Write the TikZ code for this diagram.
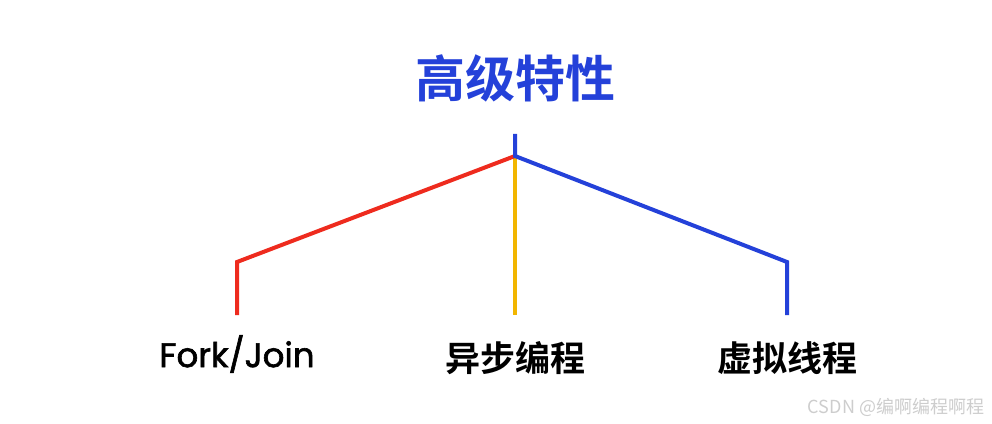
\documentclass[tikz,border=0pt]{standalone}
\usepackage{fontspec}
\setmainfont{Poppins}
\newfontfamily\cjk{Noto Sans CJK SC}[BoldFont={Noto Sans CJK SC Bold}]
\newfontfamily\leaflatin{Poppins}[FakeBold=1.8]

\definecolor{titleblue}{HTML}{2441D9}
\definecolor{branchred}{HTML}{EE2B1E}
\definecolor{branchyellow}{HTML}{F2B600}
\definecolor{markgray}{HTML}{CDCDCD}

\tikzset{
  branch/.style = {line width=4pt},
  leaf/.style   = {inner sep=0pt, text=black},
}

\begin{document}
\begin{tikzpicture}[
      x = 1pt,
      y = 1pt,
  ]

  \useasboundingbox (0,0) rectangle (992,423);

  \node[inner sep=0pt, text=titleblue, font=\cjk\bfseries\fontsize{50}{50}\selectfont] (title) at (515,345) {高级特性};

  \coordinate (top) at (515,289);
  \coordinate (hub) at (515,267);
  \coordinate (rbend) at (237,161);
  \coordinate (bbend) at (787,161);
  \coordinate (rend) at (237,108);
  \coordinate (yend) at (515,108);
  \coordinate (bend) at (787,108);

  \draw [branch, branchyellow] (hub) -- (yend);
  \draw [branch, branchred] (hub) -- (rbend) -- (rend);
  \draw [branch, titleblue] (top) -- (hub) -- (bbend) -- (bend);

  \node[leaf, font=\leaflatin\fontsize{34}{34}\selectfont] (forkjoin) at (237,69) {Fork/Join};
  \node[leaf, font=\cjk\bfseries\fontsize{35}{35}\selectfont] (async) at (515,65) {异步编程};
  \node[leaf, font=\cjk\bfseries\fontsize{35}{35}\selectfont] (virtual) at (787,65) {虚拟线程};

  % watermark
  \node[inner sep=0pt, text=markgray, font=\cjk\fontsize{18}{18}\selectfont] (mark) at (896,16) {CSDN @编啊编程啊程};

\end{tikzpicture}
\end{document}
